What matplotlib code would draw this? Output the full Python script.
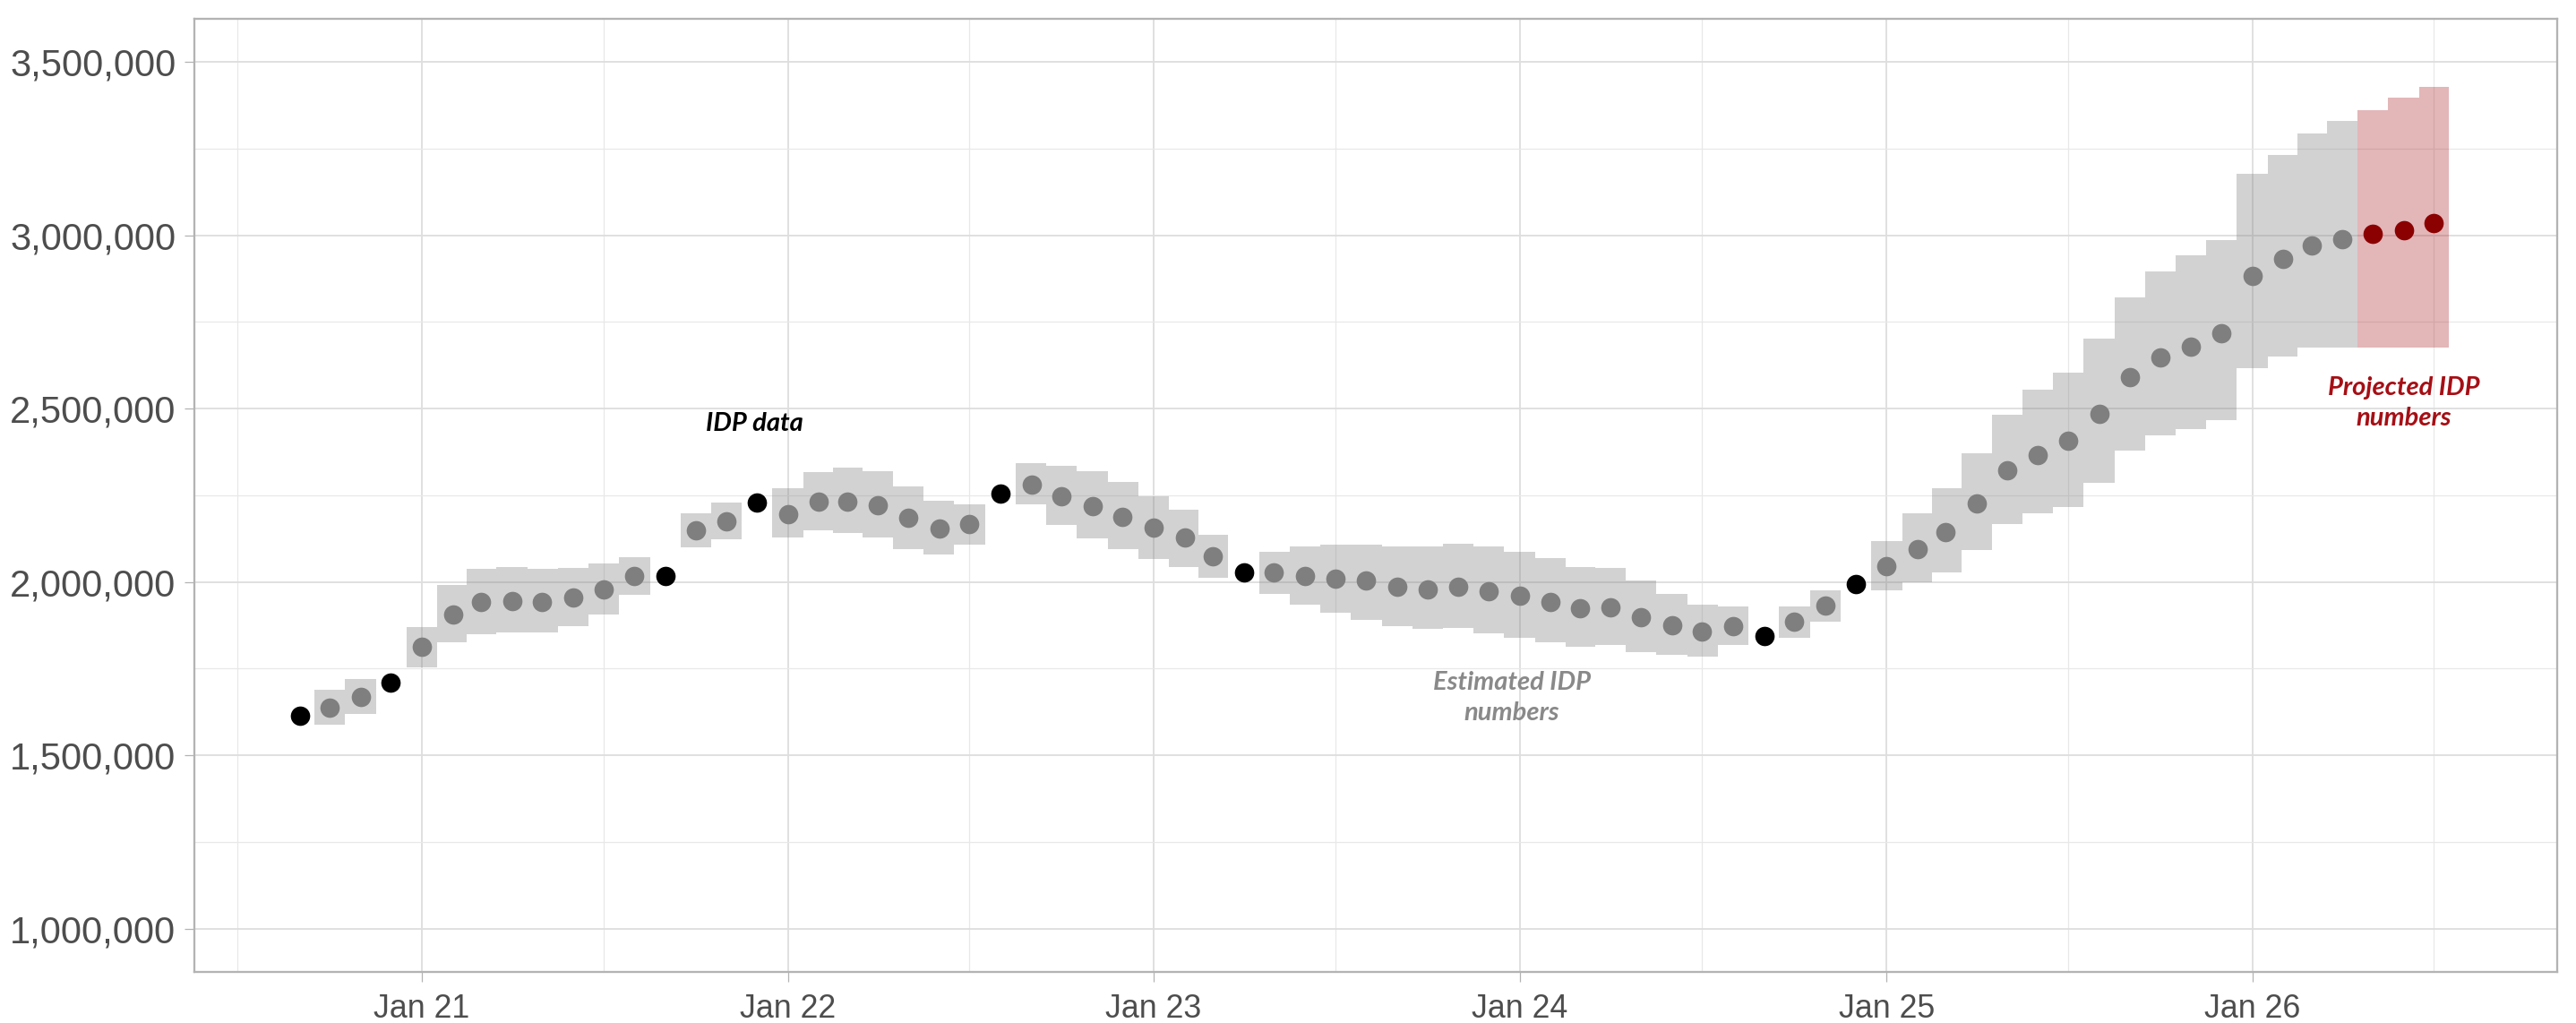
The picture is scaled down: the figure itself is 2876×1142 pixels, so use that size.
import matplotlib
matplotlib.use("Agg")
import matplotlib.pyplot as plt
import matplotlib.dates as mdates
from matplotlib.ticker import FuncFormatter, MultipleLocator
import numpy as np
import pandas as pd

# monthly IDP figures, Sep 2020 - Jul 2026 (thousands)
months = pd.date_range("2020-09-01", "2026-07-01", freq="MS")

# obs = reported figure, est = estimated, proj = projected
status = (
    ["obs", "est", "est", "obs"]
    + ["est"] * 8 + ["obs", "est", "est", "obs"]
    + ["est"] * 7 + ["obs"] + ["est"] * 4
    + ["est"] * 3 + ["obs"] + ["est"] * 8
    + ["est"] * 8 + ["obs", "est", "est", "obs"]
    + ["est"] * 12
    + ["est"] * 4 + ["proj"] * 3
)

idp = [
    1614, 1638, 1667, 1710,
    1812, 1906, 1941, 1946, 1942, 1954, 1979, 2016, 2016, 2150, 2175, 2229,
    2196, 2231, 2232, 2221, 2185, 2155, 2168, 2256, 2281, 2248, 2219, 2188,
    2157, 2127, 2075, 2027, 2027, 2018, 2009, 2003, 1985, 1979, 1986, 1973,
    1960, 1943, 1925, 1926, 1899, 1874, 1858, 1873, 1845, 1884, 1931, 1993,
    2045, 2095, 2144, 2227, 2322, 2366, 2407, 2485, 2591, 2647, 2679, 2717,
    2883, 2933, 2971, 2988, 3004, 3015, 3034,
]

lower = [
    None, 1589, 1618, None,
    1753, 1827, 1849, 1855, 1855, 1872, 1906, 1962, None, 2101, 2123, None,
    2128, 2150, 2142, 2127, 2095, 2080, 2108, None, 2224, 2164, 2126, 2095,
    2065, 2043, 2012, None, 1965, 1934, 1911, 1891, 1872, 1864, 1866, 1851,
    1838, 1827, 1812, 1818, 1798, 1790, 1784, 1818, None, 1838, 1886, None,
    1976, 2000, 2027, 2091, 2167, 2198, 2215, 2285, 2379, 2424, 2441, 2466,
    2616, 2651, 2677, 2675, 2675, 2676, 2676,
]

upper = [
    None, 1689, 1719, None,
    1870, 1990, 2038, 2044, 2038, 2040, 2052, 2071, None, 2198, 2229, None,
    2269, 2316, 2330, 2319, 2276, 2233, 2225, None, 2342, 2334, 2319, 2289,
    2246, 2208, 2135, None, 2088, 2102, 2108, 2108, 2102, 2102, 2111, 2102,
    2088, 2069, 2044, 2040, 2003, 1966, 1934, 1928, None, 1930, 1976, None,
    2118, 2197, 2271, 2370, 2483, 2555, 2604, 2703, 2821, 2896, 2943, 2986,
    3176, 3231, 3293, 3330, 3361, 3396, 3427,
]

dot_colors = {"obs": "#000000", "est": "#7f7f7f", "proj": "#8b0000"}
band_colors = {"est": "#7f7f7f", "proj": "#a50f15"}
band_alpha = {"est": 0.35, "proj": 0.3}

x = mdates.date2num(months.to_pydatetime())
y = np.array(idp, dtype=float) * 1000
lo = np.array([np.nan if v is None else v for v in lower]) * 1000
hi = np.array([np.nan if v is None else v for v in upper]) * 1000

# bin edges halfway between consecutive months
mid = (x[:-1] + x[1:]) / 2
left_edge = np.concatenate([[x[0] - (mid[0] - x[0])], mid])
right_edge = np.concatenate([mid, [x[-1] + (x[-1] - mid[-1])]])

plt.rcParams["font.family"] = ["Liberation Sans", "DejaVu Sans"]

fig = plt.figure(figsize=(2876 / 300, 1142 / 300), dpi=300)
ax = fig.add_axes([217 / 2876, 1 - 1085 / 1142, (2855 - 217) / 2876, (1085 - 20.7) / 1142])

# uncertainty bands, one stair polygon per run of same-status months
i = 0
n = len(status)
while i < n:
    s = status[i]
    j = i
    while j + 1 < n and status[j + 1] == s:
        j += 1
    if s in band_colors:
        edges = np.concatenate([left_edge[i:j + 1], [right_edge[j]]])
        ax.stairs(hi[i:j + 1], edges, baseline=lo[i:j + 1], fill=True,
                  color=band_colors[s], alpha=band_alpha[s], lw=0, zorder=2)
    i = j + 1

for s in ["est", "obs", "proj"]:
    m = np.array([k == s for k in status])
    ax.scatter(x[m], y[m], s=27, color=dot_colors[s], linewidths=0, zorder=3)

# labels
note = dict(family="Lato", weight="bold", style="italic", fontsize=7,
            ha="center", va="center", linespacing=1.4, zorder=4)
ax.text(mdates.datestr2num("2021-11-29"), 2456000, "IDP data",
        color="#000000", **note)
ax.text(mdates.datestr2num("2023-12-24"), 1665000, "Estimated IDP\nnumbers",
        color="#898989", **note)
ax.text(mdates.datestr2num("2026-06-01"), 2515000, "Projected IDP\nnumbers",
        color="#a50f15", **note)

# axes styling
ax.set_xlim(mdates.datestr2num("2020-05-19"), mdates.datestr2num("2026-11-01"))
ax.set_ylim(875000, 3625000)

ax.xaxis.set_major_locator(mdates.MonthLocator(bymonth=1))
ax.xaxis.set_minor_locator(mdates.MonthLocator(bymonth=7))
ax.xaxis.set_major_formatter(mdates.DateFormatter("%b %y"))
ax.yaxis.set_major_locator(MultipleLocator(500000))
ax.yaxis.set_minor_locator(MultipleLocator(250000))
ax.yaxis.set_major_formatter(FuncFormatter(lambda v, p: f"{v:,.0f}"))

ax.grid(which="major", color="#dedede", lw=0.45, zorder=0)
ax.grid(which="minor", color="#e8e8e8", lw=0.3, zorder=0)
ax.set_axisbelow(True)

for sp in ax.spines.values():
    sp.set_color("#b3b3b3")
    sp.set_linewidth(0.55)

ax.tick_params(which="major", length=2.75, width=0.3, color="#b3b3b3",
               labelcolor="#4d4d4d", pad=2.2)
ax.tick_params(axis="y", which="major", labelsize=10)
ax.tick_params(axis="x", which="major", labelsize=8.6, pad=3)
ax.tick_params(which="minor", length=0)

fig.savefig("out.png", dpi=300, facecolor="white")
